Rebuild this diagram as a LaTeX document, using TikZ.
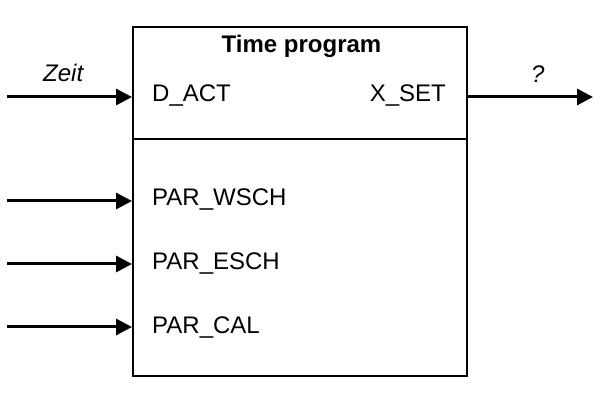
\documentclass[tikz,border=0pt]{standalone}
\usepackage{fontspec}
\setmainfont{Liberation Sans}
\usetikzlibrary{arrows.meta}
\begin{document}
\begin{tikzpicture}[x=1pt,y=-1pt,
  lbl/.style={inner sep=0pt, anchor=base west, font=\fontsize{24}{28}\selectfont},
  arr/.style={line width=3pt, -{Triangle[length=16pt,width=16pt]}},
  frame/.style={draw, line width=2pt, minimum width=334pt, minimum height=349pt, inner sep=0pt}]
\useasboundingbox (0,0) rectangle (600,395);
\node[frame] (box) at (300,201.5) {};
\coordinate (dl) at (133,139);
\coordinate (dr) at (467,139);
\draw[line width=2pt] (dl) -- (dr);
\node[lbl, anchor=base, font=\fontsize{24}{28}\selectfont\bfseries] (title) at (301.5,53) {Time program};
\node[lbl] (dact) at (152,102) {D\_ACT};
\node[lbl, anchor=base east] (xset) at (446,102) {X\_SET};
\node[lbl] (wsch) at (152,206) {PAR\_WSCH};
\node[lbl] (esch) at (152,270) {PAR\_ESCH};
\node[lbl] (cal) at (152,334) {PAR\_CAL};
\node[lbl, font=\fontsize{24}{28}\selectfont\itshape] (zeit) at (43,82) {Zeit};
\node[lbl, font=\fontsize{24}{28}\selectfont\itshape] (q) at (531,83) {?};
\coordinate (i0) at (7,97);
\coordinate (i1) at (7,201);
\coordinate (i2) at (7,264);
\coordinate (i3) at (7,327);
\coordinate (o0s) at (467,97);
\coordinate (o0) at (593,97);
\draw[arr] (i0) -- (i0 -| box.west);
\draw[arr] (i1) -- (i1 -| box.west);
\draw[arr] (i2) -- (i2 -| box.west);
\draw[arr] (i3) -- (i3 -| box.west);
\draw[arr] (o0s) -- (o0);
\end{tikzpicture}
\end{document}
